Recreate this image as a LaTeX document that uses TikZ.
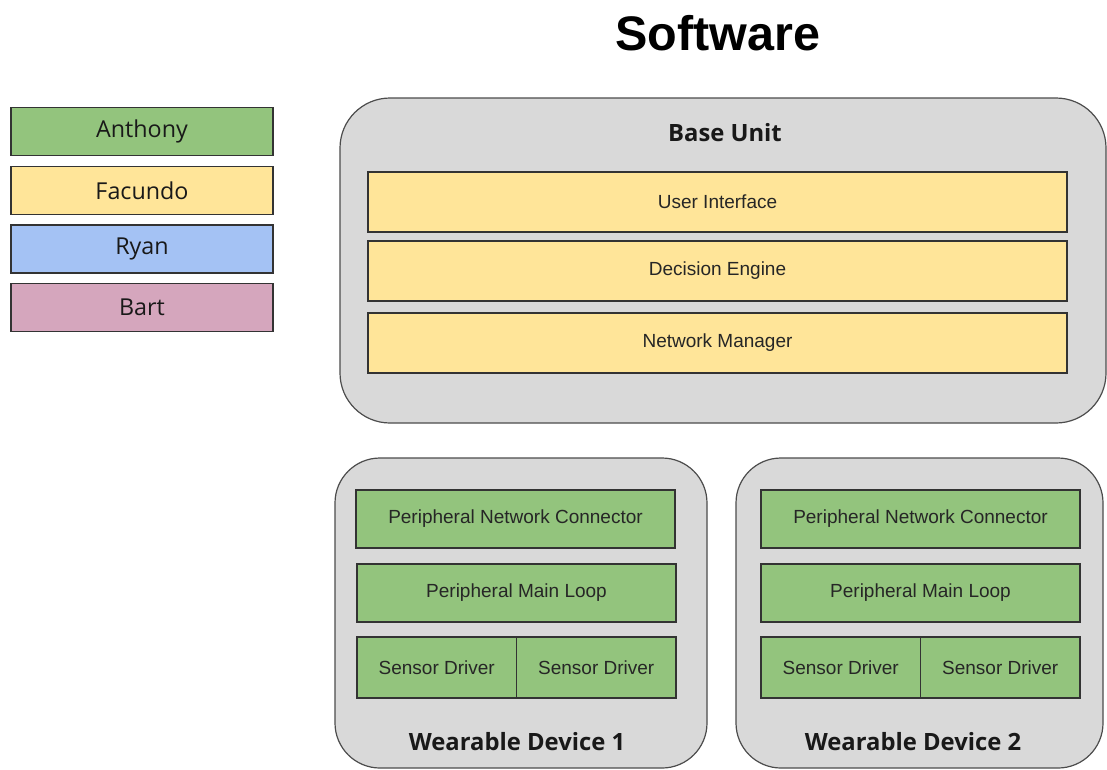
\documentclass[tikz,border=0pt]{standalone}
\usepackage{fontspec}
\setmainfont{Liberation Sans}
\newfontfamily\labelfont{Open Sans}
\newfontfamily\boxfont{Liberation Sans}
\definecolor{ownerA}{HTML}{93C47D}
\definecolor{ownerF}{HTML}{FFE599}
\definecolor{ownerR}{HTML}{A4C2F4}
\definecolor{ownerB}{HTML}{D5A6BD}
\definecolor{unitgray}{HTML}{D9D9D9}
\begin{document}
\begin{tikzpicture}[x=1pt,y=-1pt,
  legendbox/.style={draw=black!80, line width=1.2pt, minimum width=262pt,
    minimum height=48pt, inner sep=0pt, text=black!90,
    font=\labelfont\fontsize{23.3}{25}\selectfont},
  unit/.style={draw=black!70, fill=unitgray, line width=1.2pt,
    rounded corners=#1, inner sep=0pt},
  part/.style={draw=black!80, line width=1.2pt, inner sep=0pt, text=black!85,
    font=\boxfont\fontsize{19}{21}\selectfont},
  uilayer/.style={part, fill=ownerF, minimum width=699pt, minimum height=60pt},
  wearlayer/.style={part, fill=ownerA, minimum width=319pt, minimum height=58pt},
  sensor/.style={part, fill=ownerA, minimum width=159.5pt, minimum height=61pt},
  unitlabel/.style={font=\labelfont\bfseries\fontsize{23.8}{26}\selectfont, text=black!90}
]
\useasboundingbox (0,0) rectangle (1107,769);

% title
\node[font=\bfseries\fontsize{48.5}{52}\selectfont] (title) at (718,33) {Software};

% legend of owners
\node[legendbox, fill=ownerA] (anthony) at (142,131.5) {Anthony};
\node[legendbox, fill=ownerF] (facundo) at (142,190.5) {Facundo};
\node[legendbox, fill=ownerR] (ryan)    at (142,249)   {Ryan};
\node[legendbox, fill=ownerB] (bart)    at (142,307.5) {Bart};

% base unit
\node[unit=50pt, minimum width=766pt, minimum height=325pt] (base) at (723,260.5) {};
\node[unitlabel] (baselabel) at (725,133) {Base Unit};
\node[uilayer] (ui)  at (717.5,202) {User Interface};
\node[uilayer] (de)  at (717.5,271) {Decision Engine};
\node[uilayer] (nm)  at (717.5,343) {Network Manager};

% wearable device 1
\node[unit=45pt, minimum width=372pt, minimum height=310pt] (wd1) at (521,613) {};
\node[wearlayer] (pnc1) at (515.5,519) {Peripheral Network Connector};
\node[wearlayer] (pml1) at (516.5,593) {Peripheral Main Loop};
\node[sensor] (sa1) at (436.75,667.5) {Sensor Driver};
\node[sensor] (sb1) at (596.25,667.5) {Sensor Driver};
\node[unitlabel] (wd1label) at (517,742) {Wearable Device 1};

% wearable device 2
\node[unit=45pt, minimum width=367pt, minimum height=310pt] (wd2) at (919.5,613) {};
\node[wearlayer] (pnc2) at (920.5,519) {Peripheral Network Connector};
\node[wearlayer] (pml2) at (920.5,593) {Peripheral Main Loop};
\node[sensor] (sa2) at (840.75,667.5) {Sensor Driver};
\node[sensor] (sb2) at (1000.25,667.5) {Sensor Driver};
\node[unitlabel] (wd2label) at (913,742) {Wearable Device 2};
\end{tikzpicture}
\end{document}
